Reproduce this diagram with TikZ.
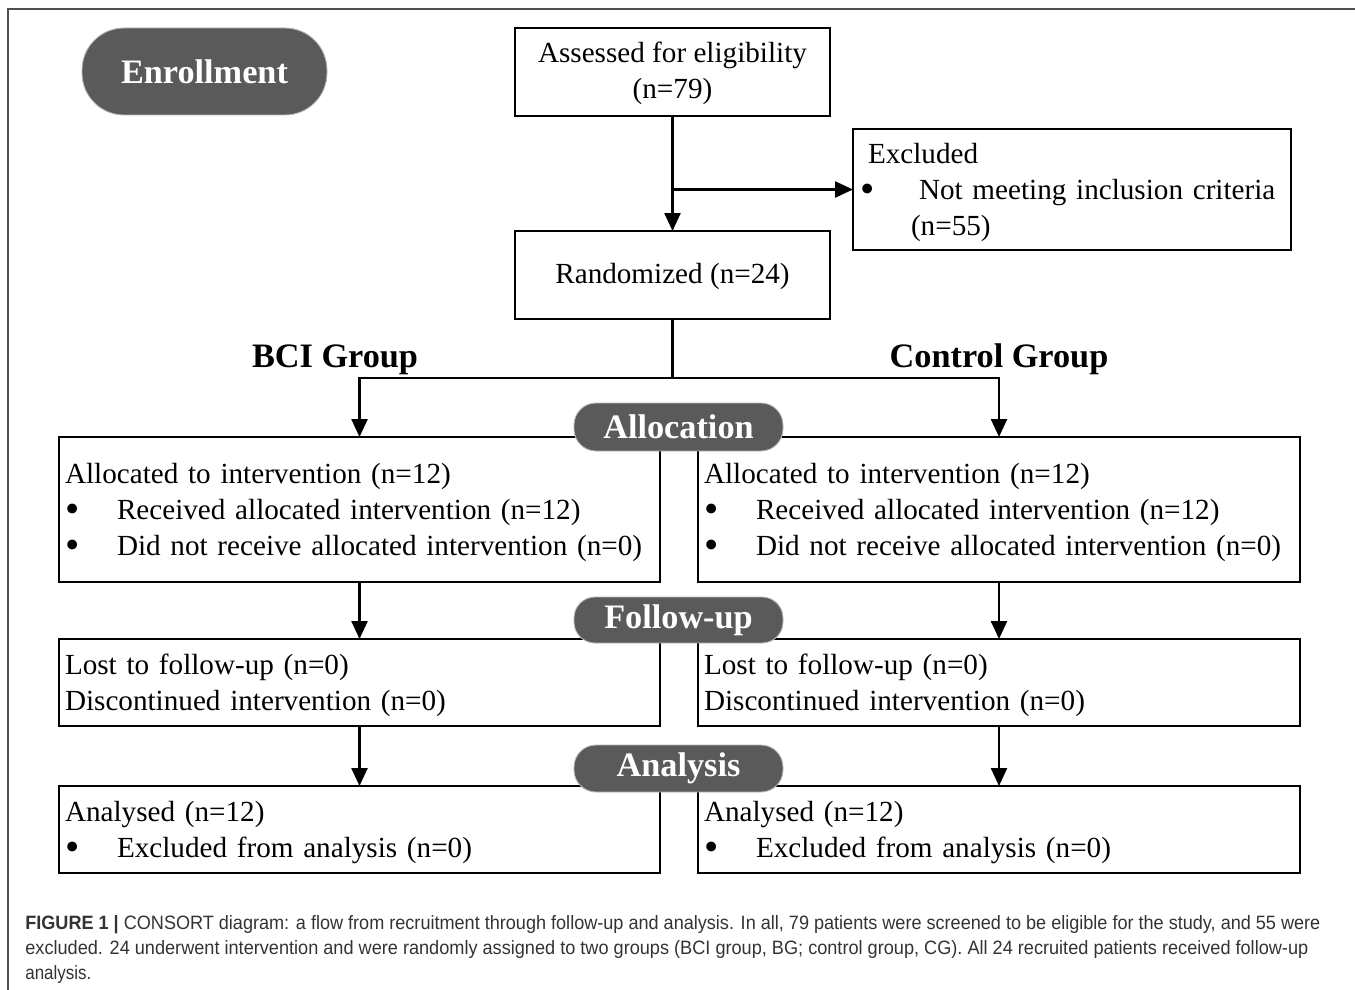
\documentclass[tikz,border=0pt]{standalone}
\usepackage{fontspec}
\setmainfont{Liberation Serif}
\newfontfamily\capfont{Liberation Sans}
\usepackage{graphicx}
\usetikzlibrary{arrows.meta}
\newlength\px
\setlength\px{0.02cm}
\newcommand\topstrut[1]{\rule{0pt}{#1\px}}
\newcommand\bigbul{\smash{\raisebox{-0.1em}{\scalebox{1.4}{\textbullet}}}}
\newcommand\bulitem[1]{\makebox[#1\px][l]{\bigbul}}
\definecolor{pillgray}{HTML}{5A5A5A}
\definecolor{framegray}{HTML}{505050}
\definecolor{capgray}{HTML}{333333}
\begin{document}
\begin{tikzpicture}[x=0.02cm, y=-0.02cm,
  every node/.style={font=\fontsize{16.6}{20.4}\selectfont},
  box/.style 2 args={draw, line width=1.4pt, rectangle, inner sep=0pt,
    outer sep=0pt, minimum width=#1\px, minimum height=#2\px, anchor=north west},
  lbox/.style 2 args={box={#1}{#2}, inner xsep=6\px,
    text width={\dimexpr #1\px-12\px\relax}, align=left},
  cbox/.style 2 args={box={#1}{#2}, align=center},
  pill/.style n args={3}{fill=pillgray, draw=gray!55, line width=0.5pt,
    rounded corners=#3\px, minimum width=#1\px, minimum height=#2\px,
    inner sep=0pt, text=white, font=\fontsize{19.5}{22}\selectfont\bfseries},
  grp/.style={font=\fontsize{19.5}{22}\selectfont\bfseries, inner sep=0pt, anchor=base},
  ln/.style={line width=1.4pt},
  arr/.style={line width=1.4pt, -{Triangle[length=0.36cm, width=0.32cm]}},
  capline/.style={anchor=base west, inner sep=0pt, text=capgray,
    font=\capfont\fontsize{11}{12}\selectfont}]
\useasboundingbox (0,0) rectangle (1355,990);
\draw[framegray, line width=1.1pt] (8,990) -- (8,9) -- (1355,9);

% enrollment
\node[pill={245}{87}{42}] (enr) at (204.5,71.5) {Enrollment};
\node[cbox={315}{88}] (ass) at (515,28) {\topstrut{24}Assessed for eligibility\\(n=79)};
\node[box={438}{121}, text width=438\px, align=left] (exc) at (853,129)
  {\topstrut{26}\hspace*{15\px}Excluded\\
   \hspace*{7\px}\bulitem{59}Not meeting inclusion criteria\\
   \hspace*{58\px}(n=55)};
\node[cbox={315}{88}] (rand) at (515,231) {\topstrut{24}Randomized (n=24)};

\coordinate (exbr) at (ass.south |- exc.west);
\draw[arr] (ass.south) -- (rand.north);
\draw[arr] (exbr) -- (exc.west);

% groups
\node[grp] (bci) at (335,367) {BCI Group};
\node[grp] (ctl) at (999,367) {Control Group};

% allocation boxes
\node[lbox={601}{145}] (allocL) at (59,437)
  {\topstrut{26}Allocated to intervention (n=12)\\
   \bulitem{52}Received allocated intervention (n=12)\\
   \bulitem{52}Did not receive allocated intervention (n=0)};
\node[lbox={602}{145}] (allocR) at (698,437)
  {\topstrut{26}Allocated to intervention (n=12)\\
   \bulitem{52}Received allocated intervention (n=12)\\
   \bulitem{52}Did not receive allocated intervention (n=0)};

\path (rand.south) ++(0,59) coordinate (split);
\draw[ln] (rand.south) -- (split);
\draw[arr] (split) -| (allocL.north);
\draw[arr] (split) -| (allocR.north);

% follow-up boxes
\node[lbox={601}{87}] (fuL) at (59,639)
  {\topstrut{26}Lost to follow-up (n=0)\\Discontinued intervention (n=0)};
\node[lbox={602}{87}] (fuR) at (698,639)
  {\topstrut{26}Lost to follow-up (n=0)\\Discontinued intervention (n=0)};
\draw[arr] (allocL.south) -- (fuL.north);
\draw[arr] (allocR.south) -- (fuR.north);

% analysis boxes
\node[lbox={601}{87}] (anL) at (59,786)
  {\topstrut{26}Analysed (n=12)\\\bulitem{52}Excluded from analysis (n=0)};
\node[lbox={602}{87}] (anR) at (698,786)
  {\topstrut{26}Analysed (n=12)\\\bulitem{52}Excluded from analysis (n=0)};
\draw[arr] (fuL.south) -- (anL.north);
\draw[arr] (fuR.south) -- (anR.north);

% stage pills
\node[pill={209}{48}{22}] (palloc) at (678.5,427) {Allocation};
\node[pill={209}{46}{21}] (pfu) at (678.5,620) {Follow-up};
\node[pill={209}{47}{22}] (pan) at (678.5,768.5) {Analysis};

% caption
\node[capline] (cap1) at (25,929) {\resizebox{1295\px}{\height}{\textbf{FIGURE 1 |} CONSORT diagram: a flow from recruitment through follow-up and analysis. In all, 79 patients were screened to be eligible for the study, and 55 were}};
\node[capline] (cap2) at (25,954) {\resizebox{1283\px}{\height}{excluded. 24 underwent intervention and were randomly assigned to two groups (BCI group, BG; control group, CG). All 24 recruited patients received follow-up}};
\node[capline] (cap3) at (25,979) {\resizebox{66\px}{\height}{analysis.}};
\end{tikzpicture}
\end{document}
